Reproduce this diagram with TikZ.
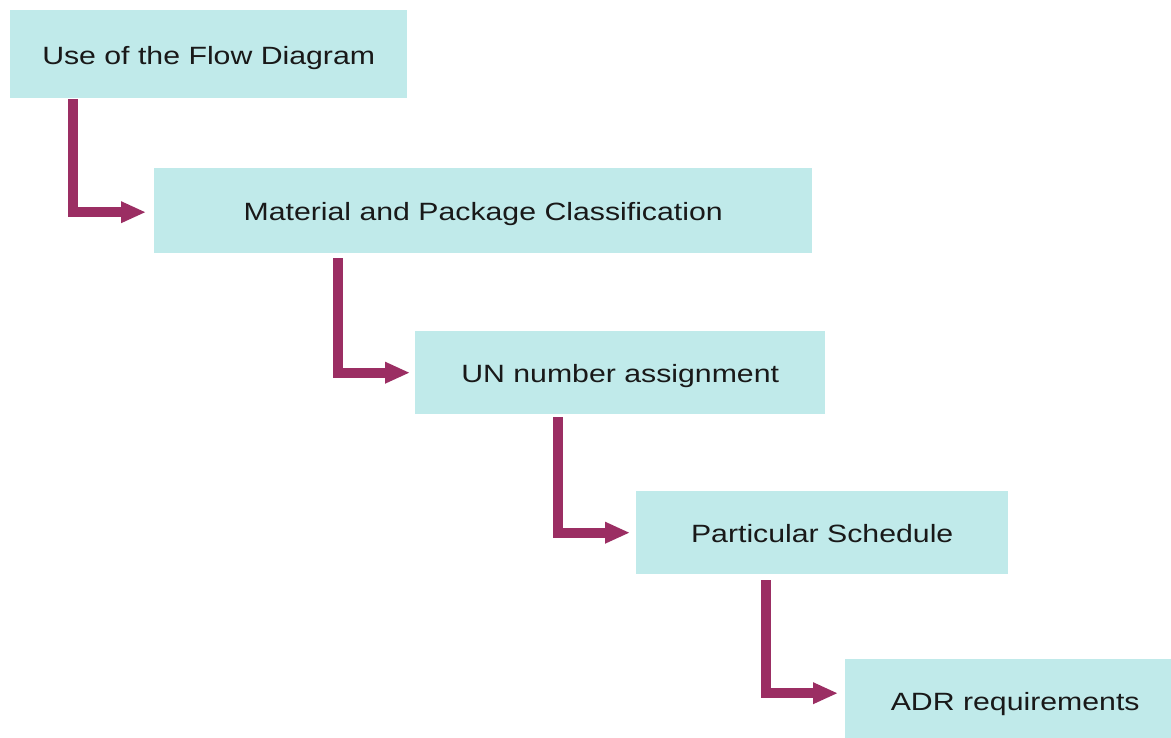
\documentclass[tikz,border=0pt]{standalone}
\usepackage{graphicx}
\usepackage{fontspec}
\setmainfont{Liberation Sans}
\usetikzlibrary{arrows.meta}
\definecolor{boxfill}{HTML}{C0EAEA}
\definecolor{arrowcol}{HTML}{9B2E63}
\newcommand{\widetxt}[1]{\scalebox{1.21}[1]{#1}}
\begin{document}
\begin{tikzpicture}[x=1pt,y=-1pt,
  box/.style={fill=boxfill, draw=none, anchor=north west, inner sep=0pt,
    text height=22pt, text depth=2pt,
    font=\fontsize{25}{28}\selectfont, text=black!90},
  conn/.style={draw=arrowcol, line width=10pt, line join=miter,
    -{Triangle[width=20pt,length=25pt]}}]
\fill[white] (0,0) rectangle (1171,738);
\useasboundingbox (0,0) rectangle (1171,738);
\node[box, minimum width=397pt, minimum height=88pt] (a) at (10,10) {\widetxt{Use of the Flow Diagram}};
\node[box, minimum width=658pt, minimum height=85pt] (b) at (154,168) {\widetxt{Material and Package Classification}};
\node[box, minimum width=410pt, minimum height=83pt] (c) at (415,331) {\widetxt{UN number assignment}};
\node[box, minimum width=372pt, minimum height=83pt] (d) at (636,491) {\widetxt{Particular Schedule}};
\node[box, minimum width=340pt, minimum height=82pt] (e) at (845,659) {\widetxt{ADR requirements}};
\coordinate (a1) at ([xshift=63pt,yshift=-1pt]a.south west);
\coordinate (b1) at ([xshift=184pt,yshift=-5pt]b.south west);
\coordinate (c1) at ([xshift=143pt,yshift=-3pt]c.south west);
\coordinate (d1) at ([xshift=130pt,yshift=-6pt]d.south west);
\draw[conn] (a1) |- ([xshift=-8pt,yshift=-1.5pt]b.west);
\draw[conn] (b1) |- ([xshift=-5pt]c.west);
\draw[conn] (c1) |- ([xshift=-6pt]d.west);
\draw[conn] (d1) |- ([xshift=-7pt,yshift=7pt]e.west);
\end{tikzpicture}
\end{document}
